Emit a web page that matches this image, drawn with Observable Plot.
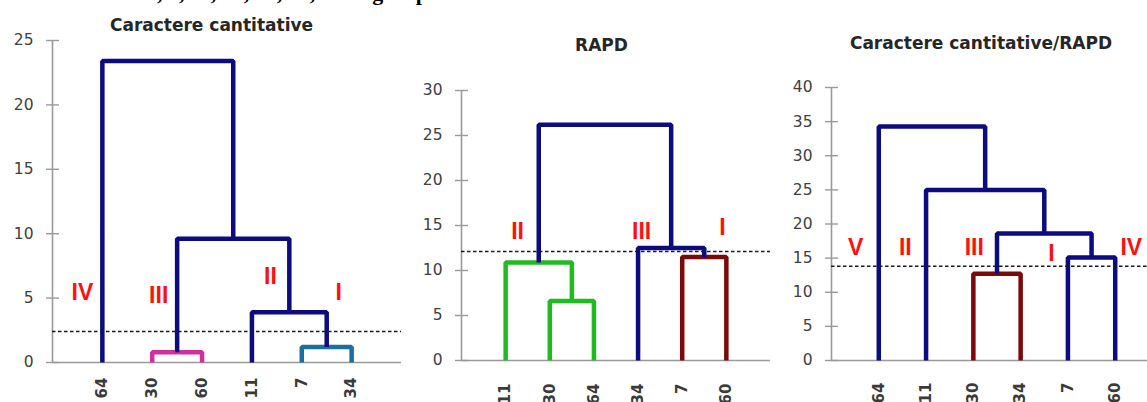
<!DOCTYPE html>
<html><head><meta charset="utf-8">
<script src="https://cdn.jsdelivr.net/npm/d3@7"></script>
<script src="https://cdn.jsdelivr.net/npm/@observablehq/plot@0.6"></script>
<style>
html,body{margin:0;padding:0;background:#fff}
body{width:1147px;height:402px;overflow:hidden;position:relative;font-family:"DejaVu Sans",sans-serif}
.panel{position:absolute;top:0}
.title{position:absolute;font:bold 17px "DejaVu Sans";color:#262626;transform:translate(-50%,-50%);white-space:nowrap}
#cap{position:absolute;top:-18px;left:146px;font:bold 22px "Liberation Serif";line-height:22px;color:#000;white-space:nowrap}
</style></head><body>
<div id="cap">3, 7, 11, 30, 34, 60, 64 in groups</div>
<script>
// ---- Panel 1: Caractere cantitative ----
const title1 = "Caractere cantitative";
const leaves1 = ["64", "30", "60", "11", "7", "34"];
// merges: [left node, right node, height, group]; nodes 0-5 = leaves, 6+ = merges in order
const merges1 = [[1, 2, 0.8, "III"], [4, 5, 1.2, "I"], [3, 7, 3.9, ""], [6, 8, 9.6, ""], [0, 9, 23.4, ""]];
const cut1 = 2.4;
const groups1 = ["IV", "III", "II", "I"];
const groupX1 = [0.6, 2.13, 4.37, 5.74];
const groupY1 = [5.4, 5.2, 6.7, 5.4];
const yTicks1 = [0, 5, 10, 15, 20, 25];

// ---- Panel 2: RAPD ----
const title2 = "RAPD";
const leaves2 = ["11", "30", "64", "34", "7", "60"];
const merges2 = [[1, 2, 6.6, "II"], [0, 6, 10.9, "II"], [4, 5, 11.5, "I"], [3, 8, 12.5, ""], [7, 9, 26.2, ""]];
const cut2 = 12.1;
const groups2 = ["II", "III", "I"];
const groupX2 = [1.27, 4.08, 5.91];
const groupY2 = [14.3, 14.3, 14.8];
const yTicks2 = [0, 5, 10, 15, 20, 25, 30];

// ---- Panel 3: Caractere cantitative/RAPD ----
const title3 = "Caractere cantitative/RAPD";
const leaves3 = ["64", "11", "30", "34", "7", "60"];
const merges3 = [[2, 3, 12.7, "III"], [4, 5, 15.1, ""], [6, 7, 18.6, ""], [1, 8, 25.0, ""], [0, 9, 34.3, ""]];
const cut3 = 13.8;
const groups3 = ["V", "II", "III", "I", "IV"];
const groupX3 = [0.51, 1.56, 3.02, 4.65, 6.34];
const groupY3 = [16.5, 16.5, 16.5, 15.7, 16.5];
const yTicks3 = [0, 5, 10, 15, 20, 25, 30, 35, 40];

// styles
const NAVY = "#0c0c80";
const colors1 = {III: "#d22f9e", I: "#1a6ea0"};
const colors2 = {II: "#1fbb1f", I: "#7a0a0a"};
const colors3 = {III: "#7a0a0a"};

function dendroPoints(leaves, merges, colors) {
  const nodes = leaves.map((l, i) => ({x: i + 1, h: 0}));
  const pts = [];
  merges.forEach(([a, b, h, g], k) => {
    const A = nodes[a], B = nodes[b];
    nodes.push({x: (A.x + B.x) / 2, h});
    const c = colors[g] || NAVY;
    [[A.x, A.h], [A.x, h], [B.x, h], [B.x, B.h]].forEach(([x, y]) => pts.push({x, y, k, c}));
  });
  return pts;
}

function panel(cfg) {
  const {leaves, merges, colors, cut, groups, gx, gy, yTicks, left, width, mL, mR, mT, mB, xPad} = cfg;
  const yMax = yTicks[yTicks.length - 1];
  const pts = dendroPoints(leaves, merges, colors);
  const lab = groups.map((g, i) => ({g, x: gx[i], y: gy[i]}));
  const svg = Plot.plot({
    width, height: 402,
    marginLeft: mL, marginRight: mR, marginTop: mT, marginBottom: mB,
    style: {fontFamily: "DejaVu Sans", background: "transparent", overflow: "visible", maxWidth: "none"},
    x: {domain: [0, 7]},
    y: {domain: [0, yMax]},
    color: {type: "identity"},
    marks: [
      Plot.ruleY([0], {stroke: "#9a9a9a", strokeWidth: 1.6}),
      Plot.ruleX([0], {y1: 0, y2: yMax, stroke: "#9a9a9a", strokeWidth: 1.6}),
      Plot.axisY({ticks: yTicks, tickSize: 13, dx: 7, tickPadding: 13, stroke: "#9a9a9a", strokeWidth: 1.4, strokeOpacity: 1,
        fill: "#404040", fontSize: 15.5, tickFormat: d => String(d), label: null}),
      Plot.axisX({ticks: leaves.map((d, i) => i + 1), tickFormat: (d) => leaves[d - 1], tickRotate: -90,
        tickSize: 0, tickPadding: xPad, fill: "#3a3a3a", fontSize: 15, fontWeight: "bold", label: null}),
      Plot.line(pts, {x: "x", y: "y", z: "k", stroke: "c", strokeWidth: 4.5, strokeLinejoin: "miter", strokeLinecap: "butt"}),
      Plot.ruleY([cut], {stroke: "#1a1a1a", strokeWidth: 1.5, strokeDasharray: "3.5,2.5"}),
      Plot.text(lab, {x: "x", y: "y", text: "g", fill: "#ff1010", fontWeight: "bold", fontSize: 23,
        fontFamily: "Liberation Sans", lineAnchor: "middle"})
    ]
  });
  const div = document.createElement("div");
  div.className = "panel";
  div.style.left = left + "px";
  div.appendChild(svg);
  document.body.appendChild(div);
}

function title(text, cx, cy) {
  const t = document.createElement("div");
  t.className = "title";
  t.textContent = text;
  t.style.left = cx + "px";
  t.style.top = cy + "px";
  document.body.appendChild(t);
}

panel({leaves: leaves1, merges: merges1, colors: colors1, cut: cut1, groups: groups1, gx: groupX1, gy: groupY1,
  yTicks: yTicks1, left: 0, width: 402, mL: 52, mR: 1, mT: 40, mB: 40, xPad: 15});
panel({leaves: leaves2, merges: merges2, colors: colors2, cut: cut2, groups: groups2, gx: groupX2, gy: groupY2,
  yTicks: yTicks2, left: 380, width: 392, mL: 81, mR: 2, mT: 90, mB: 42, xPad: 23});
panel({leaves: leaves3, merges: merges3, colors: colors3, cut: cut3, groups: groups3, gx: groupX3, gy: groupY3,
  yTicks: yTicks3, left: 760, width: 402, mL: 71, mR: 0, mT: 87, mB: 42, xPad: 22});

title(title1, 211.5, 25);
title(title2, 601.5, 45);
title(title3, 981, 43);
</script>
</body></html>
